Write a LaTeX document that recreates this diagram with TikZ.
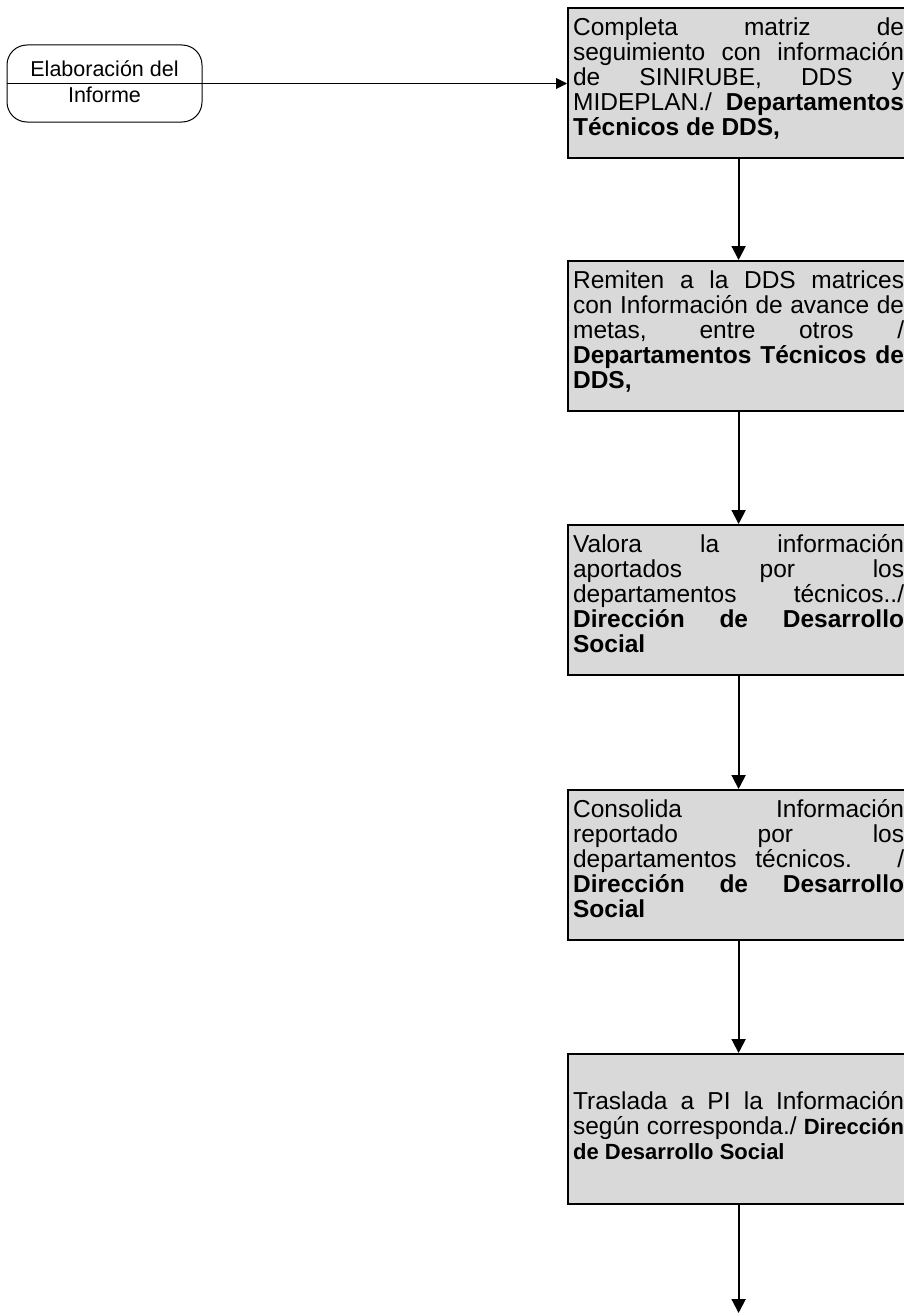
\documentclass[tikz,border=0pt]{standalone}
\usepackage{fontspec}
\setmainfont{Liberation Sans}
\usetikzlibrary{arrows.meta}
\definecolor{boxgray}{RGB}{217,217,217}
\newcommand{\boxtext}[2][0pt]{\parbox[c][140pt][t]{331pt}{\fontsize{24.5}{25}\selectfont\hyphenpenalty=10000\tolerance=10000\hbadness=10000\vspace*{#1}\rule{0pt}{22pt}#2}}
\newcommand{\smallbold}[1]{{\fontsize{22}{25}\selectfont\bfseries #1}}
\tikzset{
  procbox/.style={draw=black, line width=2.2pt, fill=boxgray, rectangle, inner sep=5pt, anchor=north west},
  flow/.style={line width=2pt, -{Triangle[length=14pt,width=14pt]}},
  startbox/.style={draw=black, line width=1pt, rounded corners=20pt, minimum width=195pt, minimum height=77pt, inner sep=0pt},
  thinflow/.style={line width=1pt, -{Triangle[length=11pt,width=11pt]}},
  starttext/.style={anchor=base, inner sep=0pt, font=\fontsize{21.5}{24}\selectfont}
}
\begin{document}
\begin{tikzpicture}[x=1pt,y=-1pt]
\useasboundingbox (0,0) rectangle (904,1314);
\clip (0,0) rectangle (904,1314);

% start terminal
\node[startbox] (start) at (104.5,83.5) {};
\draw[line width=1pt] (start.west) -- (start.east);
\node[starttext] (st1) at (104.5,77) {Elaboración del};
\node[starttext] (st2) at (104.5,102) {Informe};

% process boxes
\node[procbox] (b1) at (567,7) {\boxtext{Completa matriz de\linebreak seguimiento con información\linebreak de SINIRUBE, DDS y\linebreak MIDEPLAN./ \textbf{Departamentos\linebreak Técnicos de DDS,}}};
\node[procbox] (b2) at (567,260) {\boxtext{Remiten a la DDS matrices\linebreak con Información de avance de\linebreak metas, entre otros /\linebreak \textbf{Departamentos Técnicos de\linebreak DDS,}}};
\node[procbox] (b3) at (567,524) {\boxtext{Valora la información\linebreak aportados por los\linebreak departamentos técnicos../\linebreak \textbf{Dirección de Desarrollo\linebreak Social}}};
\node[procbox] (b4) at (567,789) {\boxtext{Consolida Información\linebreak reportado por los\linebreak departamentos técnicos. /\linebreak \textbf{Dirección de Desarrollo\linebreak Social}}};
\node[procbox] (b5) at (567,1053) {\boxtext[28pt]{Traslada a PI la Información\linebreak según corresponda./ \smallbold{Dirección}\linebreak \smallbold{de Desarrollo Social}}};

\coordinate (end) at (739,1313);

% connectors
\draw[thinflow] (start.east) -- (start.east -| b1.west);
\draw[flow] (b1.south) -- (b2.north);
\draw[flow] (b2.south) -- (b3.north);
\draw[flow] (b3.south) -- (b4.north);
\draw[flow] (b4.south) -- (b5.north);
\draw[flow] (b5.south) -- (b5.south |- end);
\end{tikzpicture}
\end{document}
